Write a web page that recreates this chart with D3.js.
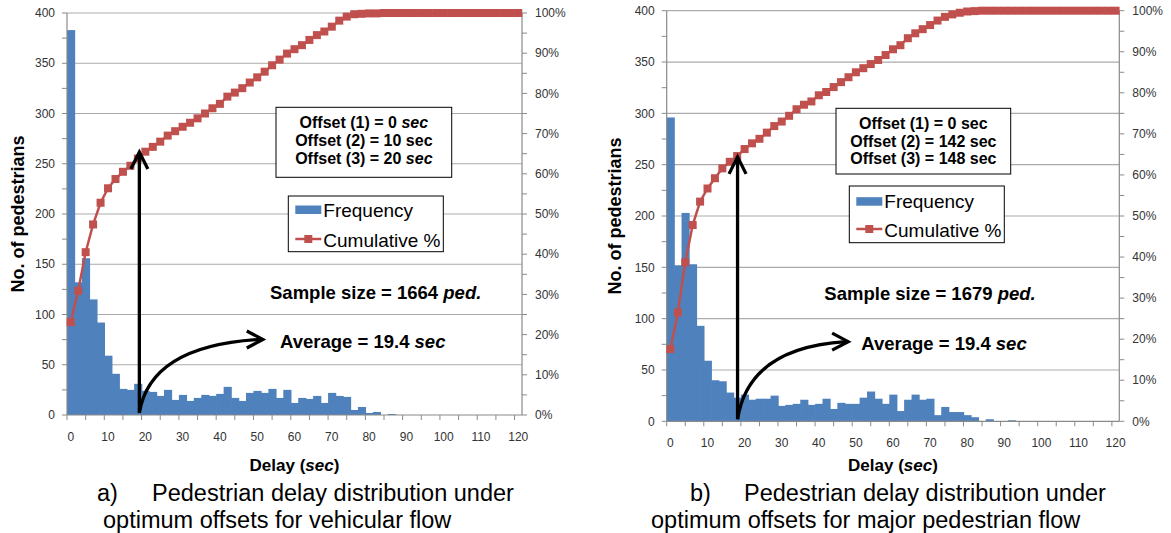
<!DOCTYPE html>
<html>
<head>
<meta charset="utf-8">
<script src="https://cdn.jsdelivr.net/npm/d3@7"></script>
<style>
body { margin: 0; background: #fff; }
svg { display: block; font-family: "Liberation Sans", Arial, sans-serif; }
text { white-space: pre; }
</style>
</head>
<body>
<script>
// delay bins (sec), 2 sec wide
var delayBins = [0, 2, 4, 6, 8, 10, 12, 14, 16, 18, 20, 22, 24, 26, 28, 30, 32, 34, 36, 38,
    40, 42, 44, 46, 48, 50, 52, 54, 56, 58, 60, 62, 64, 66, 68, 70, 72, 74, 76, 78,
    80, 82, 84, 86, 88, 90, 92, 94, 96, 98, 100, 102, 104, 106, 108, 110, 112, 114, 116, 118, 120];
var xTickLabels = [0, 10, 20, 30, 40, 50, 60, 70, 80, 90, 100, 110, 120];
var countTicks = [0, 50, 100, 150, 200, 250, 300, 350, 400];
var pctTicks = [0, 10, 20, 30, 40, 50, 60, 70, 80, 90, 100];

// a) optimum offsets for vehicular flow
var freqA = [383, 132, 156, 115, 92, 59, 41, 26, 25, 31, 24, 23, 19, 25, 15, 20, 14, 17, 20, 19,
    21, 28, 17, 14, 22, 24, 22, 26, 17, 25, 12, 17, 16, 19, 12, 22, 19, 18, 5, 8,
    2, 3, 0, 1, 0, 0, 0, 0, 0, 0, 0, 0, 0, 0, 0, 0, 0, 0, 0, 0, 0];
var cumA = [23.1, 30.9, 40.5, 47.4, 52.8, 56.4, 58.7, 60.5, 62.0, 63.8, 65.5, 66.7, 68.0, 69.5, 70.6, 71.7, 72.7, 73.8, 75.0, 76.3,
    77.4, 79.2, 80.2, 81.3, 82.7, 84.0, 85.4, 87.0, 88.4, 89.9, 91.0, 92.0, 93.3, 94.5, 95.4, 96.6, 98.1, 99.1, 99.7, 99.8,
    99.9, 99.9, 100, 100, 100, 100, 100, 100, 100, 100, 100, 100, 100, 100, 100, 100, 100, 100, 100, 100, 100];

// b) optimum offsets for major pedestrian flow
var freqB = [296, 152, 203, 153, 93, 59, 40, 39, 28, 23, 26, 21, 22, 22, 25, 15, 16, 17, 21, 16,
    17, 22, 12, 18, 17, 17, 23, 29, 22, 17, 26, 10, 21, 26, 21, 22, 6, 14, 9, 9,
    6, 4, 0, 2, 0, 0, 1, 0, 0, 0, 0, 0, 0, 0, 0, 0, 0, 0, 0, 0, 0];
var cumB = [17.6, 26.5, 38.7, 47.8, 53.5, 56.7, 59.2, 61.6, 63.2, 64.6, 66.3, 67.7, 68.8, 70.3, 71.9, 73.0, 74.4, 76.0, 77.1, 77.9,
    79.4, 80.2, 81.4, 82.6, 83.8, 85.0, 86.0, 87.0, 88.0, 89.2, 90.6, 91.6, 93.3, 94.5, 95.5, 96.5, 97.6, 98.5, 99.1, 99.5,
    99.8, 99.9, 100, 100, 100, 100, 100, 100, 100, 100, 100, 100, 100, 100, 100, 100, 100, 100, 100, 100, 100];

var BLUE = "#4f81bd", RED = "#c0504d", GRID = "#ababab", AXIS = "#8a8a8a", LABEL = "#333";
var MK = 8; // marker size

var svg = d3.select("body").append("svg")
    .attr("width", 1171)
    .attr("height", 533);

// bold text with optional italic pieces
function richText(g, x, y, anchor, size, parts) {
    var t = g.append("text")
        .attr("x", x).attr("y", y).attr("dy", "0.35em")
        .attr("text-anchor", anchor)
        .attr("font-size", size)
        .attr("font-weight", "bold")
        .attr("fill", "#000");
    parts.forEach(function (p) {
        t.append("tspan").text(p[0]).attr("font-style", p[1] ? "italic" : "normal");
    });
    return t;
}

function chevron(g, tip, a, b) {
    g.append("path")
        .attr("d", "M" + a + "L" + tip + "L" + b)
        .attr("fill", "none").attr("stroke", "#000")
        .attr("stroke-width", 3.3).attr("stroke-linejoin", "miter");
}

function drawPanel(c) {
    var g = svg.append("g");

    var x = d3.scaleBand().domain(delayBins).range([c.left, c.right]).padding(0);
    var yN = d3.scaleLinear().domain([0, 400]).range([c.bottom, c.top]);
    var yP = d3.scaleLinear().domain([0, 100]).range([c.bottom, c.top]);
    var step = x.step();
    // position of a delay value (sec) on the category axis
    function px(sec) { return c.left + (sec / 2 + 0.5) * step; }

    // gridlines
    g.selectAll("line.grid")
        .data(countTicks.slice(1))
        .enter().append("line")
        .attr("class", "grid")
        .attr("x1", c.left).attr("x2", c.right)
        .attr("y1", function (d) { return yN(d); })
        .attr("y2", function (d) { return yN(d); })
        .attr("stroke", GRID).attr("stroke-width", 1.2);

    // bars (slightly overlapped so no seams show)
    g.selectAll("rect.bar")
        .data(c.freq)
        .enter().append("rect")
        .attr("class", "bar")
        .attr("x", function (d, i) { return x(delayBins[i]); })
        .attr("width", function (d, i) { return i < delayBins.length - 1 ? x.bandwidth() + 0.7 : x.bandwidth(); })
        .attr("y", function (d) { return yN(d); })
        .attr("height", function (d) { return c.bottom - yN(d); })
        .attr("fill", BLUE);

    // axes lines
    g.append("line").attr("x1", c.left).attr("x2", c.left).attr("y1", c.top).attr("y2", c.bottom)
        .attr("stroke", AXIS).attr("stroke-width", 1.2);
    g.append("line").attr("x1", c.right).attr("x2", c.right).attr("y1", c.top).attr("y2", c.bottom)
        .attr("stroke", AXIS).attr("stroke-width", 1.2);
    g.append("line").attr("x1", c.left).attr("x2", c.right).attr("y1", c.bottom).attr("y2", c.bottom)
        .attr("stroke", AXIS).attr("stroke-width", 1.2);

    // left axis ticks and labels
    var minorN = d3.range(25, 400, 50);
    g.selectAll("line.ltick")
        .data(countTicks.concat(minorN))
        .enter().append("line")
        .attr("x1", c.left - 5).attr("x2", c.left)
        .attr("y1", function (d) { return yN(d); })
        .attr("y2", function (d) { return yN(d); })
        .attr("stroke", AXIS);
    g.selectAll("text.ylab")
        .data(countTicks)
        .enter().append("text")
        .attr("x", c.left - 12)
        .attr("y", function (d) { return yN(d); })
        .attr("dy", "0.35em")
        .attr("text-anchor", "end")
        .attr("font-size", 12).attr("fill", LABEL)
        .text(function (d) { return d; });

    // right axis ticks and labels
    var minorP = d3.range(5, 100, 10);
    g.selectAll("line.rtick")
        .data(pctTicks.concat(minorP))
        .enter().append("line")
        .attr("x1", c.right).attr("x2", c.right + 5)
        .attr("y1", function (d) { return yP(d); })
        .attr("y2", function (d) { return yP(d); })
        .attr("stroke", AXIS);
    g.selectAll("text.plab")
        .data(pctTicks)
        .enter().append("text")
        .attr("x", c.right + 13)
        .attr("y", function (d) { return yP(d); })
        .attr("dy", "0.35em")
        .attr("font-size", 12).attr("fill", LABEL)
        .text(function (d) { return d + "%"; });

    // x ticks every 2.5 categories
    g.selectAll("line.xtick")
        .data(d3.range(0, 25))
        .enter().append("line")
        .attr("x1", function (j) { return c.left + j * 2.5 * step; })
        .attr("x2", function (j) { return c.left + j * 2.5 * step; })
        .attr("y1", c.bottom).attr("y2", c.bottom + 5)
        .attr("stroke", AXIS);
    g.selectAll("text.xlab")
        .data(xTickLabels)
        .enter().append("text")
        .attr("x", function (d) { return x(d) + x.bandwidth() / 2; })
        .attr("y", c.bottom + c.xLabOff)
        .attr("dy", "0.35em")
        .attr("text-anchor", "middle")
        .attr("font-size", 12).attr("fill", LABEL)
        .text(function (d) { return d; });

    // cumulative line
    var line = d3.line()
        .x(function (d, i) { return x(delayBins[i]) + x.bandwidth() / 2; })
        .y(function (d) { return yP(d); });
    g.append("path")
        .datum(c.cum)
        .attr("d", line)
        .attr("fill", "none").attr("stroke", RED).attr("stroke-width", 2.5);
    g.selectAll("rect.mk")
        .data(c.cum)
        .enter().append("rect")
        .attr("x", function (d, i) { return x(delayBins[i]) + x.bandwidth() / 2 - MK / 2; })
        .attr("y", function (d) { return yP(d) - MK / 2; })
        .attr("width", MK).attr("height", MK)
        .attr("fill", RED);

    // axis titles
    g.append("text")
        .attr("transform", "translate(" + c.yTitleX + "," + ((c.top + c.bottom) / 2) + ") rotate(-90)")
        .attr("dy", "0.35em")
        .attr("text-anchor", "middle")
        .attr("font-size", 18).attr("font-weight", "bold")
        .text("No. of pedestrians");
    richText(g, (c.left + c.right) / 2, 465, "middle", 17, [["Delay (", false], ["sec", true], [")", false]]);

    // arrows
    var vx = px(c.arrowSec), vTip = yP(c.arrowPct);
    g.append("line").attr("x1", vx).attr("x2", vx).attr("y1", c.bottom - 2).attr("y2", vTip + 2)
        .attr("stroke", "#000").attr("stroke-width", 3.3);
    chevron(g, [vx, vTip], [vx - 8.5, vTip + 17], [vx + 8.5, vTip + 17]);
    var ex = px(c.curveSec), ey = yP(c.curvePct);
    g.append("path")
        .attr("d", "M" + vx + "," + (c.bottom - 2) + "Q" + (vx + 11) + "," + (ey + 6) + " " + (ex - 2) + "," + ey)
        .attr("fill", "none").attr("stroke", "#000").attr("stroke-width", 3.3);
    chevron(g, [ex, ey], [ex - 16, ey - 8.5], [ex - 16, ey + 8.5]);

    // offsets box
    var ob = c.offBox;
    g.append("rect").attr("x", ob[0]).attr("y", ob[1]).attr("width", ob[2] - ob[0]).attr("height", ob[3] - ob[1])
        .attr("fill", "#fff").attr("stroke", "#000").attr("stroke-width", 1);
    var ocx = (ob[0] + ob[2]) / 2;
    c.offsets.forEach(function (o, i) {
        richText(g, ocx, c.offY[i], "middle", 16, o);
    });

    // legend
    var lb = c.legBox;
    g.append("rect").attr("x", lb[0]).attr("y", lb[1]).attr("width", lb[2] - lb[0]).attr("height", lb[3] - lb[1])
        .attr("fill", "#fff").attr("stroke", "#000").attr("stroke-width", 1);
    g.append("rect").attr("x", lb[0] + 7).attr("y", c.legY[0] - 4.5).attr("width", 26).attr("height", 8.5)
        .attr("fill", BLUE);
    g.append("line").attr("x1", lb[0] + 7).attr("x2", lb[0] + 33).attr("y1", c.legY[1] - 1).attr("y2", c.legY[1] - 1)
        .attr("stroke", RED).attr("stroke-width", 2.5);
    g.append("rect").attr("x", lb[0] + 20 - MK / 2).attr("y", c.legY[1] - 1 - MK / 2).attr("width", MK).attr("height", MK)
        .attr("fill", RED);
    ["Frequency", "Cumulative %"].forEach(function (s, i) {
        g.append("text").attr("x", lb[0] + 35).attr("y", c.legY[i]).attr("dy", "0.35em")
            .attr("font-size", 19).attr("fill", "#000").text(s);
    });

    // notes
    richText(g, c.sample[0], c.sample[1], c.sample[2], 18.5,
        [["Sample size = " + c.sampleN + " ", false], ["ped.", true]]);
    richText(g, c.avg[0], c.avg[1], c.avg[2], 18.5,
        [["Average = 19.4 ", false], ["sec", true]]);

    // caption
    g.append("text").attr("x", c.cap[0]).attr("y", 493).attr("dy", "0.35em")
        .attr("font-size", 23.5).attr("fill", "#000").text(c.capTag);
    g.append("text").attr("x", c.cap[1]).attr("y", 493).attr("dy", "0.35em")
        .attr("font-size", 23.5).attr("fill", "#000").text("Pedestrian delay distribution under");
    g.append("text").attr("x", c.cap[2]).attr("y", 520).attr("dy", "0.35em")
        .attr("font-size", 23.5).attr("fill", "#000").text(c.capLine2);
}

drawPanel({
    left: 67, right: 522, top: 13, bottom: 415, xLabOff: 22,
    freq: freqA, cum: cumA, yTitleX: 18,
    arrowSec: 18.4, arrowPct: 65.4, curveSec: 51.5, curvePct: 18.8,
    offBox: [276, 107.3, 451.7, 177.3], offY: [122, 140, 158],
    offsets: [
        [["Offset (1) = 0 ", false], ["sec", true]],
        [["Offset (2) = 10 sec", false]],
        [["Offset (3) = 20 ", false], ["sec", true]]
    ],
    legBox: [288.3, 196, 443.3, 251.7], legY: [210, 240],
    sample: [270, 293, "start"], sampleN: 1664,
    avg: [280, 341.7, "start"],
    cap: [97, 152, 103], capTag: "a)", capLine2: "optimum offsets for vehicular flow"
});

drawPanel({
    left: 666.7, right: 1119.3, top: 10.7, bottom: 421.3, xLabOff: 21.5,
    freq: freqB, cum: cumB, yTitleX: 615,
    arrowSec: 18.1, arrowPct: 64.4, curveSec: 47.9, curvePct: 19.4,
    offBox: [836, 108.3, 1010.7, 174], offY: [123.3, 141, 158.3],
    offsets: [
        [["Offset (1) = 0 sec", false]],
        [["Offset (2) = 142 sec", false]],
        [["Offset (3) = 148 sec", false]]
    ],
    legBox: [849.3, 186, 1004.3, 242.7], legY: [201.7, 230],
    sample: [1035.7, 293.3, "end"], sampleN: 1679,
    avg: [1026.7, 343.3, "end"],
    cap: [690, 744, 651], capTag: "b)", capLine2: "optimum offsets for major pedestrian flow"
});
</script>
</body>
</html>
